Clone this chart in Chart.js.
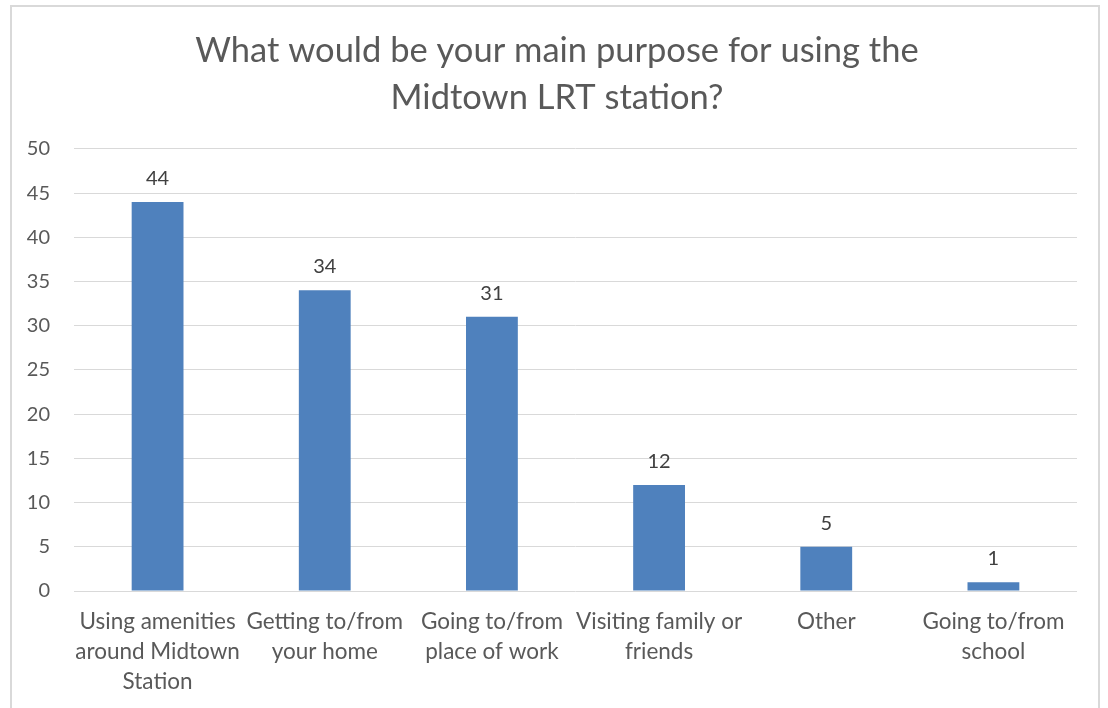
<!DOCTYPE html>
<html lang="en">
<head>
  <meta charset="UTF-8">
  <title>Midtown LRT station survey</title>
  <script src="https://cdn.jsdelivr.net/npm/chart.js"></script>
  <style>
    html, body { margin: 0; padding: 0; background: #ffffff; }
    .frame {
      position: absolute;
      left: 10px; top: 5px;
      width: 1090px; height: 720px;
      border: 2px solid #d9d9d9;
      box-sizing: border-box;
    }
    .chart-box { position: absolute; left: 0; top: 0; width: 1108px; height: 708px; }
  </style>
</head>
<body>
  <div class="frame"></div>
  <div class="chart-box">
    <canvas id="purposeChart" width="1108" height="708"></canvas>
  </div>

<script>
  // survey answers
  const titleLines = ['What would be your main purpose for using the', 'Midtown LRT station?'];
  const categories = [
    ['Using amenities', 'around Midtown', 'Station'],
    ['Getting to/from', 'your home'],
    ['Going to/from', 'place of work'],
    ['Visiting family or', 'friends'],
    ['Other'],
    ['Going to/from', 'school']
  ];
  const responses = [44, 34, 31, 12, 5, 1];
  const yTicks = [0, 5, 10, 15, 20, 25, 30, 35, 40, 45, 50];

  const fontFamily = 'Lato, "Open Sans", sans-serif';

  // prints the count above each bar
  const valueLabels = {
    id: 'valueLabels',
    afterDatasetsDraw(chart) {
      const ctx = chart.ctx;
      const meta = chart.getDatasetMeta(0);
      ctx.save();
      ctx.font = '20px ' + fontFamily;
      ctx.fillStyle = '#404040';
      ctx.textAlign = 'center';
      ctx.textBaseline = 'alphabetic';
      meta.data.forEach((bar, i) => {
        ctx.fillText(String(responses[i]), bar.x, bar.y - 17);
      });
      ctx.restore();
    }
  };

  const ctx = document.getElementById('purposeChart').getContext('2d');
  const purposeChart = new Chart(ctx, {
    type: 'bar',
    data: {
      labels: categories,
      datasets: [{
        label: 'Responses',
        data: responses,
        backgroundColor: '#4f81bd',
        borderWidth: 0,
        barPercentage: 0.31,
        categoryPercentage: 1
      }]
    },
    options: {
      responsive: false,
      animation: false,
      layout: { padding: { left: 6, right: 0, top: 0, bottom: 0 } },
      plugins: {
        legend: { display: false },
        tooltip: { enabled: false },
        title: {
          display: true,
          text: titleLines,
          color: '#595959',
          font: { family: fontFamily, size: 34.5, weight: 'normal', lineHeight: 1.36 },
          padding: { top: 27, bottom: 28 }
        }
      },
      scales: {
        x: {
          grid: { display: false },
          border: { display: false },
          ticks: {
            color: '#595959',
            font: { family: fontFamily, size: 22.5, lineHeight: 1.33 },
            maxRotation: 0,
            autoSkip: false,
            padding: 8
          },
          afterFit(scale) { scale.height = 117; }
        },
        y: {
          min: 0,
          max: 50,
          afterBuildTicks(scale) { scale.ticks = yTicks.map(v => ({ value: v })); },
          grid: { color: '#d9d9d9', lineWidth: 1, drawTicks: false },
          border: { display: false },
          ticks: {
            color: '#595959',
            font: { family: fontFamily, size: 20 },
            padding: 24
          },
          afterFit(scale) { scale.width = 68; }
        },
        // empty right-hand margin so the title stays centred on the frame
        yRight: {
          position: 'right',
          display: true,
          grid: { display: false },
          border: { display: false },
          ticks: { display: false },
          afterFit(scale) { scale.width = 31; }
        }
      }
    },
    plugins: [valueLabels]
  });
</script>
</body>
</html>
